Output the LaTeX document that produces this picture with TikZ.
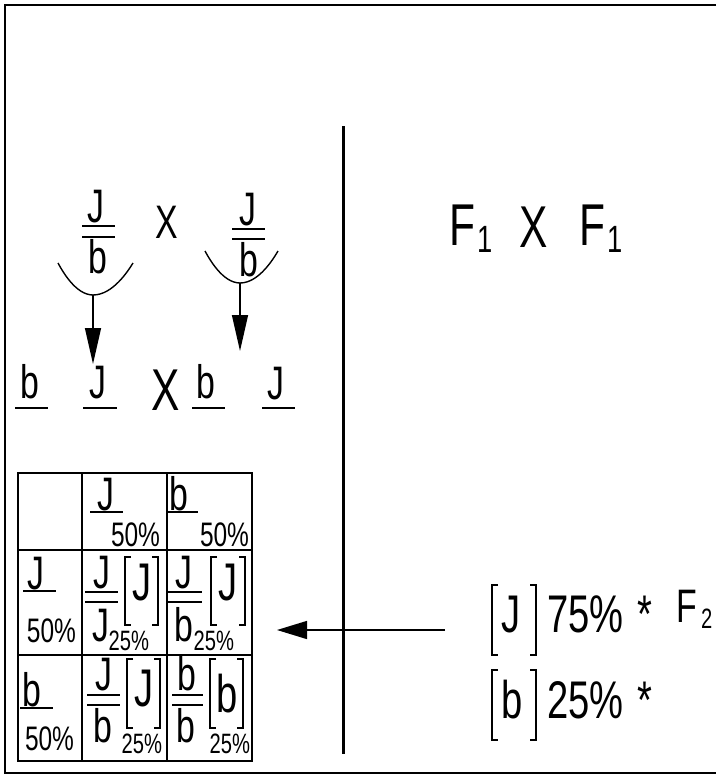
\documentclass[tikz,border=0pt]{standalone}
\usepackage{fontspec}
\setmainfont{Liberation Sans}[FakeStretch=0.72]
\usetikzlibrary{arrows.meta}
\newcommand\fsz[1]{\fontsize{#1}{#1}\selectfont}
% square bracket pair around a genotype: left x, right x, top y, bottom y
\newcommand\brk[4]{%
  \draw[ln] (#1+6,#3) -- (#1,#3) -- (#1,#4) -- (#1+6,#4);
  \draw[ln] (#2-6,#3) -- (#2,#3) -- (#2,#4) -- (#2-6,#4);}
\tikzset{
  every node/.style={inner sep=0pt, outer sep=0pt},
  lb/.style={anchor=base},
  lbw/.style={anchor=base west},
  lbe/.style={anchor=base east},
  ln/.style={line width=1.4pt},
  bar/.style={line width=1.6pt},
  big/.style={font=\fsz{59}},
  mid/.style={font=\fsz{47}},
  sml/.style={font=\fsz{34}},
  tiny/.style={font=\fsz{28}},
  brl/.style={font=\fsz{53}},
  fall/.style={ln, -{Triangle[length=36pt,width=16pt]}},
}
\begin{document}
\begin{tikzpicture}[x=1pt,y=-1pt]
\useasboundingbox (0,0) rectangle (716,776);
% open frame and central divider
\draw[line width=2pt] (716,5) -- (5,5) -- (5,773) -- (716,773);
\draw[line width=3pt] (343,126) -- (343,754);

% parental cross
\node[mid,lb] (p1top) at (96,222) {J};
\node[mid,lb] (p1bot) at (98,273) {b};
\draw[bar] (82,226) -- (115,226) (82,237) -- (115,237);
\node[mid,lb] (px) at (167,238) {X};
\node[mid,lb] (p2top) at (248,225) {J};
\node[mid,lb] (p2bot) at (249,276) {b};
\draw[bar] (232,229) -- (265,229) (232,239) -- (265,239);

% meiosis cups and arrows to gametes
\coordinate (c1) at (93,295);
\coordinate (c2) at (240,283);
\coordinate (t1) at (93,364);
\coordinate (t2) at (240,351);
\draw[ln] (58,263) parabola bend (c1) (133,263);
\draw[ln] (205,251) parabola bend (c2) (278,251);
\draw[fall] (c1) -- (t1);
\draw[fall] (c2) -- (t2);

% gametes
\node[mid,lb] (g1) at (30,398) {b};
\node[mid,lb] (g2) at (98,398) {J};
\node[big,lb] (gx) at (166,410) {X};
\node[mid,lb] (g3) at (206,398) {b};
\node[mid,lb] (g4) at (276,399) {J};
\draw[bar] (15,408) -- (48,408) (83,408) -- (117,408)
           (192,408) -- (225,408) (262,408) -- (295,408);

% F1 x F1
\node[big,lbw] (fa) at (449,245) {F};
\node[font=\fsz{38},lbw] (fa1) at (477,252) {1};
\node[big,lb] (fx) at (534,247) {X};
\node[big,lbw] (fb) at (579,245) {F};
\node[font=\fsz{38},lbw] (fb1) at (607,252) {1};

% Punnett square
\draw[ln] (18,473) rectangle (252,761);
\draw[ln] (82,473) -- (82,761) (167,473) -- (167,761)
          (18,550) -- (252,550) (18,655) -- (252,655);
% header row
\node[mid,lb] (h1) at (106,510) {J};
\draw[bar] (90,512) -- (123,512);
\node[sml,lbe] (h1p) at (160,546) {50\%};
\node[mid,lb] (h2) at (179,510) {b};
\draw[bar] (166,512) -- (198,512);
\node[sml,lbe] (h2p) at (249,546) {50\%};
% side column
\node[mid,lb] (s1) at (36,589) {J};
\draw[bar] (23,591) -- (56,591);
\node[sml,lbw] (s1p) at (27,642) {50\%};
\node[mid,lb] (s2) at (32,706) {b};
\draw[bar] (20,708) -- (53,708);
\node[sml,lbw] (s2p) at (25,750) {50\%};
% J/J
\node[mid,lb] (a1) at (102,588) {J};
\node[mid,lb] (a2) at (101,641) {J};
\draw[bar] (85,592) -- (118,592) (85,602) -- (118,602);
\brk{125}{158}{557}{625}
\node[brl,lb] (a3) at (142,600) {J};
\node[tiny,lbe] (a4) at (149,650) {25\%};
% J/b
\node[mid,lb] (b1) at (184,588) {J};
\node[mid,lb] (b2) at (184,641) {b};
\draw[bar] (167,592) -- (202,592) (167,602) -- (202,602);
\brk{211}{245}{557}{625}
\node[brl,lb] (b3) at (228,600) {J};
\node[tiny,lbe] (b4) at (234,650) {25\%};
% J/b
\node[mid,lb] (d1) at (104,690) {J};
\node[mid,lb] (d2) at (103,742) {b};
\draw[bar] (87,695) -- (120,695) (87,705) -- (120,705);
\brk{127}{160}{659}{728}
\node[brl,lb] (d3) at (144,706) {J};
\node[tiny,lbe] (d4) at (162,753) {25\%};
% b/b
\node[mid,lb] (e1) at (187,690) {b};
\node[mid,lb] (e2) at (186,742) {b};
\draw[bar] (172,695) -- (203,695) (172,705) -- (203,705);
\brk{210}{243}{659}{728}
\node[brl,lb] (e3) at (227,712) {b};
\node[tiny,lbe] (e4) at (250,753) {25\%};

% F2 phenotype ratios
\coordinate (rs) at (445,630);
\coordinate (re) at (277,630);
\draw[ln, -{Triangle[length=30pt,width=18pt]}] (rs) -- (re);
\brk{492}{536}{585}{655}
\node[brl,lb] (r1) at (511,632) {J};
\node[brl,lbw] (r1p) at (547,632) {75\%};
\node[brl,lbw] (r1s) at (637,632) {*};
\node[font=\fsz{47},lbw] (f2) at (676,622) {F};
\node[font=\fsz{28},lbw] (f2s) at (701,628) {2};
\brk{492}{536}{670}{740}
\node[brl,lb] (r2) at (512,718) {b};
\node[brl,lbw] (r2p) at (547,718) {25\%};
\node[brl,lbw] (r2s) at (637,718) {*};
\end{tikzpicture}
\end{document}
